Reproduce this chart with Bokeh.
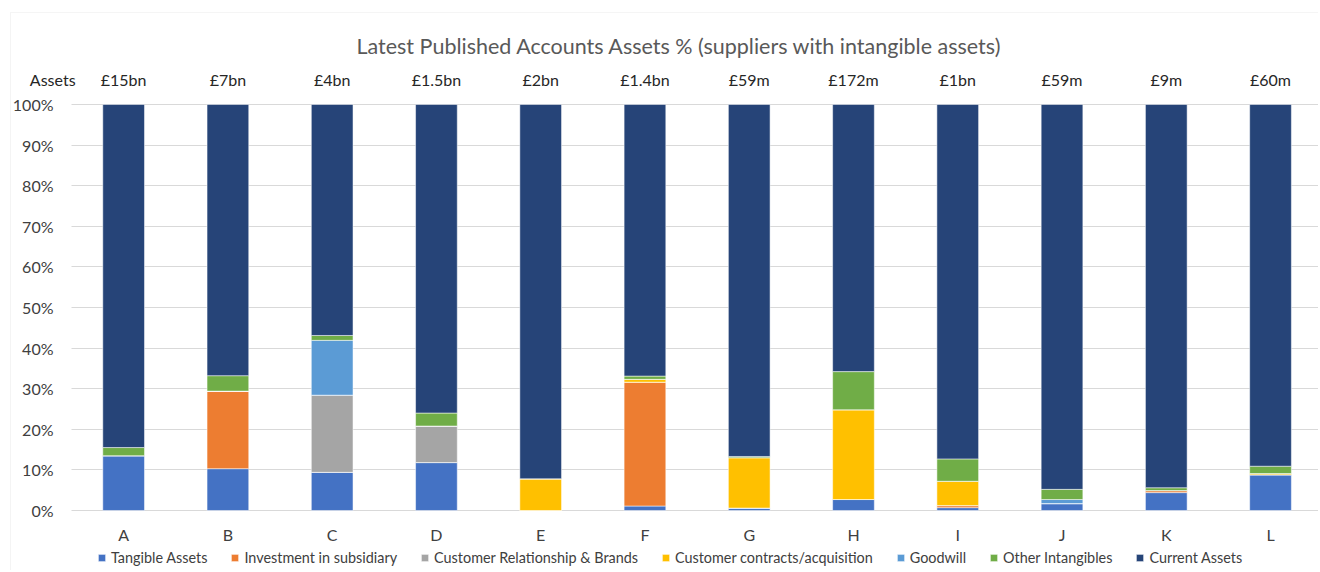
from bokeh.plotting import figure
from bokeh.models import (Range1d, ColumnDataSource, LabelSet, Label, BoxAnnotation,
                          Legend, LegendItem, FixedTicker, PrintfTickFormatter)
from bokeh.core.properties import value
from bokeh.embed import file_html
from bokeh.resources import INLINE

suppliers = ["A", "B", "C", "D", "E", "F", "G", "H", "I", "J", "K", "L"]
asset_totals = ["£15bn", "£7bn", "£4bn", "£1.5bn", "£2bn", "£1.4bn",
                "£59m", "£172m", "£1bn", "£59m", "£9m", "£60m"]
tangible = [13.5, 10.3, 9.4, 11.8, 0.0, 1.1, 0.6, 2.7, 0.7, 1.7, 4.4, 8.8]
investment = [0.0, 19.1, 0.0, 0.0, 0.0, 30.5, 0.0, 0.0, 0.5, 0.0, 0.5, 0.0]
relationship = [0.0, 0.0, 19.0, 9.0, 0.0, 0.0, 0.0, 0.0, 0.0, 0.0, 0.0, 0.0]
contracts = [0.0, 0.0, 0.0, 0.0, 7.8, 0.7, 12.4, 22.1, 6.0, 0.0, 0.0, 0.3]
goodwill = [0.0, 0.0, 13.5, 0.0, 0.0, 0.0, 0.0, 0.0, 0.0, 1.0, 0.0, 0.0]
other = [2.0, 3.8, 1.2, 3.2, 0.0, 0.8, 0.3, 9.4, 5.5, 2.5, 0.7, 1.8]
current = [84.5, 66.8, 56.9, 76.0, 92.2, 66.9, 86.7, 65.8, 87.3, 94.8, 94.4, 89.1]

series_names = ["Tangible Assets", "Investment in subsidiary", "Customer Relationship & Brands",
                "Customer contracts/acquisition", "Goodwill", "Other Intangibles", "Current Assets"]
series_keys = ["tangible", "investment", "relationship", "contracts", "goodwill", "other", "current"]
colors = ["#4472C4", "#ED7D31", "#A5A5A5", "#FFC000", "#5B9BD5", "#70AD47", "#264478"]
title_text = "Latest Published Accounts Assets % (suppliers with intangible assets)"

FONT = "Lato"

# category slots: supplier i occupies [i, i+1] on the numeric x scale
xpos = [i + 0.5 for i in range(len(suppliers))]
X_START, X_END = -0.681, 11.96
Y_START, Y_END = -14.78, 125.6

src = ColumnDataSource(dict(x=xpos, tangible=tangible, investment=investment,
                            relationship=relationship, contracts=contracts, goodwill=goodwill,
                            other=other, current=current, assets=asset_totals,
                            ylab=[106.2] * len(suppliers)))

p = figure(x_range=Range1d(X_START, X_END), y_range=Range1d(Y_START, Y_END),
           width=1318, height=570, output_backend="svg", toolbar_location=None,
           min_border_left=0, min_border_right=0, min_border_top=0, min_border_bottom=0)
p.outline_line_color = None

# chart-area border (top and left edges visible)
p.add_layout(BoxAnnotation(left=-0.585, top=122.66, right=X_END + 1, bottom=Y_START - 5,
                           fill_alpha=0, line_color="#d9d9d9", line_width=1, level="underlay"))

renderers = p.vbar_stack(series_keys, x="x", width=0.4, color=colors, source=src,
                         line_color="white", line_alpha=0.5, line_width=1)

# axes drawn at the 0 lines inside the frame
p.yaxis.fixed_location = 0
p.xaxis.fixed_location = 0
p.yaxis.ticker = FixedTicker(ticks=list(range(0, 101, 10)))
p.yaxis.formatter = PrintfTickFormatter(format="%d%%")
p.xaxis.ticker = FixedTicker(ticks=xpos)
p.xaxis.major_label_overrides = {x: s for x, s in zip(xpos, suppliers)}

p.ygrid.ticker = FixedTicker(ticks=list(range(0, 101, 10)))
p.ygrid.cross_bounds = (0, X_END)
p.ygrid.grid_line_color = "#d9d9d9"
p.ygrid.grid_line_width = 1
p.xgrid.grid_line_color = None

for ax in (p.xaxis, p.yaxis):
    ax.axis_line_color = None
    ax.major_tick_line_color = None
    ax.minor_tick_line_color = None
    ax.major_label_text_font = FONT
    ax.major_label_text_font_size = "16px"
    ax.major_label_text_color = "#404040"
p.yaxis.major_label_standoff = 12
p.xaxis.major_label_standoff = 9

labels = LabelSet(x="x", y="ylab", text="assets", source=src, text_align="center",
                  text_baseline="middle", text_font=value(FONT), text_font_size=value("16px"),
                  text_color=value("#262626"))
p.add_layout(labels)
p.add_layout(Label(x=-0.18, y=106.2, text="Assets", text_align="center", text_baseline="middle",
                   text_font=FONT, text_font_size="16px", text_color="#262626"))
p.add_layout(Label(x=5.83, y=114.5, text=title_text,
                   text_align="center", text_baseline="middle", text_font=FONT,
                   text_font_size="21.5px", text_color="#595959"))

legend = Legend(items=[LegendItem(label=n, renderers=[r]) for n, r in zip(series_names, renderers)],
                orientation="horizontal", location=(97, 4), glyph_width=9, glyph_height=9,
                label_standoff=5, spacing=23, padding=2, margin=0,
                label_text_font=FONT, label_text_font_size="14.4px", label_text_color="#404040",
                border_line_color=None, background_fill_alpha=0)
p.add_layout(legend)

open("out.html", "w").write(file_html(p, INLINE))
